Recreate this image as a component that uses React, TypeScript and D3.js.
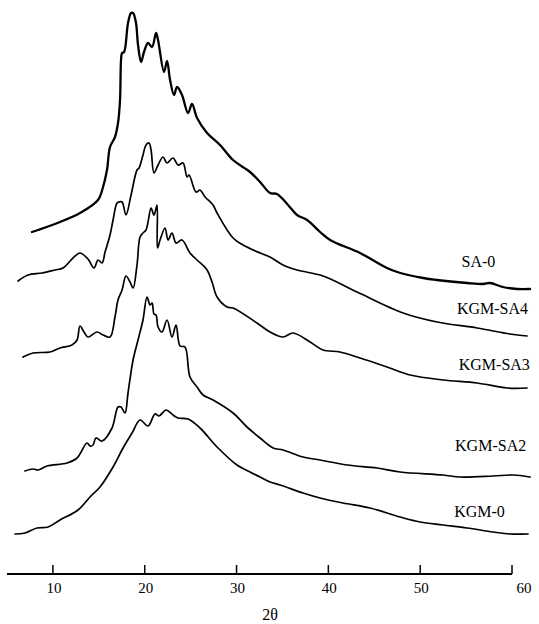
import React from "react";
import * as d3 from "d3";

// 2θ (degrees) and intensity (a.u., stacked)
const sa0Theta = [7.72, 8.38, 10.77, 12.95, 14.91, 15.46, 15.89, 16.22, 16.76, 17.09, 17.31, 17.42, 17.53, 17.75, 18.18, 18.51, 18.73, 19.05, 19.27, 19.6, 19.92, 20.36, 20.8, 21.23, 21.45, 22.1, 22.43, 22.76, 23.19, 23.52, 24.06, 24.72, 25.15, 25.7, 26.79, 28.2, 29.62, 31.47, 32.56, 33.65, 34.41, 35.61, 36.59, 37.68, 39.1, 40.19, 43.45, 46.39, 47.5, 50.32, 51.8, 55.11, 56.85, 57.6, 59.0, 60.56, 61.97];
const sa0Int = [342, 344, 352, 361, 374, 387, 404, 427, 437, 451, 474, 514, 521, 522, 551, 561, 561, 551, 529, 512, 522, 531, 527, 541, 534, 502, 513, 494, 479, 487, 479, 461, 470, 456, 441, 429, 414, 402, 392, 381, 380, 369, 359, 354, 342, 334, 321, 306, 302, 296, 294, 291, 290, 291, 287, 285, 285];

const sa4Theta = [6.2, 7.29, 8.81, 10.23, 11.1, 12.19, 12.95, 13.82, 14.48, 14.91, 15.35, 15.68, 16.22, 16.55, 16.98, 17.2, 17.53, 17.96, 18.51, 19.16, 19.38, 19.81, 20.14, 20.47, 20.69, 21.01, 21.45, 21.99, 22.43, 23.08, 23.63, 24.17, 24.61, 24.83, 25.59, 26.02, 26.57, 27.44, 27.88, 29.62, 30.71, 32.56, 33.65, 35.07, 36.59, 39.42, 43.13, 48.14, 51.84, 56.2, 59.79, 61.64];
const sa4Int = [293, 299, 301, 304, 306, 316, 321, 315, 306, 314, 311, 322, 339, 354, 371, 372, 372, 359, 379, 404, 406, 419, 429, 431, 424, 401, 409, 417, 411, 416, 409, 411, 397, 399, 382, 384, 377, 369, 361, 336, 329, 321, 317, 309, 304, 298, 282, 261, 252, 246, 240, 238];

const sa3Theta = [6.74, 7.83, 9.68, 10.77, 12.08, 12.63, 12.95, 13.39, 13.82, 14.8, 15.46, 16.22, 16.76, 17.09, 17.53, 17.96, 18.4, 18.73, 19.16, 19.49, 19.81, 20.14, 20.36, 20.69, 21.01, 21.34, 21.39, 21.67, 22.21, 22.54, 22.97, 23.41, 24.06, 24.93, 25.7, 26.79, 27.33, 27.88, 28.97, 29.62, 32.23, 33.65, 35.07, 36.15, 38.01, 39.42, 41.27, 43.45, 46.39, 48.9, 52.49, 56.2, 59.47, 61.64];
const sa3Int = [217, 221, 222, 226, 229, 234, 248, 242, 237, 242, 239, 237, 257, 274, 284, 298, 292, 286, 309, 337, 341, 344, 352, 366, 359, 369, 326, 334, 346, 334, 341, 331, 334, 321, 314, 304, 292, 277, 267, 266, 251, 242, 237, 241, 232, 224, 222, 216, 207, 199, 194, 191, 186, 186];

const sa2Theta = [6.96, 7.83, 8.38, 9.36, 11.54, 12.63, 13.71, 14.04, 14.37, 14.69, 15.35, 16.44, 17.09, 17.42, 17.85, 18.18, 18.73, 19.27, 19.81, 20.25, 20.58, 20.8, 21.01, 21.23, 21.45, 21.88, 22.43, 22.97, 23.41, 23.85, 24.39, 24.93, 25.7, 26.35, 27.44, 29.62, 31.14, 32.56, 33.98, 35.07, 37.24, 39.1, 42.04, 45.31, 47.81, 52.49, 54.35, 57.94, 60.12, 61.97];
const sa2Int = [103, 105, 104, 108, 111, 116, 131, 128, 129, 136, 133, 146, 167, 167, 161, 181, 214, 234, 254, 277, 269, 271, 260, 259, 247, 242, 254, 237, 249, 228, 227, 197, 187, 179, 174, 161, 147, 136, 126, 124, 117, 114, 109, 106, 102, 99, 97, 98, 99, 97];

const kgm0Theta = [5.87, 6.96, 8.27, 9.47, 10.77, 12.73, 14.04, 15.13, 16.55, 17.64, 18.62, 19.49, 20.36, 21.12, 21.56, 22.32, 23.08, 23.63, 24.72, 26.02, 27.88, 30.05, 31.47, 32.56, 33.65, 34.74, 37.24, 39.1, 41.6, 44.54, 47.81, 49.99, 52.49, 55.11, 57.94, 59.79, 61.75];
const kgm0Int = [40, 41, 46, 47, 54, 64, 77, 87, 107, 126, 141, 154, 148, 160, 158, 164, 159, 156, 155, 146, 127, 109, 102, 97, 92, 89, 81, 76, 71, 66, 57, 52, 49, 46, 42, 40, 40];

const seriesNames = ["SA-0", "KGM-SA4", "KGM-SA3", "KGM-SA2", "KGM-0"];
const seriesTheta = [sa0Theta, sa4Theta, sa3Theta, sa2Theta, kgm0Theta];
const seriesInt = [sa0Int, sa4Int, sa3Int, sa2Int, kgm0Int];
// label anchor: 2θ position and intensity level for each series name
const labelTheta = [54.5, 54.0, 54.2, 53.8, 53.7];
const labelInt = [307, 260, 204, 123, 57];

const xTicks = [10, 20, 30, 40, 50, 60];
const xDomain = [5, 60];
const yDomain = [0, 574];
const xTitle = "2θ";

export default function App() {
  const W = 539, H = 624;
  const x = d3.scaleLinear().domain(xDomain).range([7, 512]);
  const y = d3.scaleLinear().domain(yDomain).range([574, 0]);
  const axisY = y(0);
  const line = d3
    .line<[number, number]>()
    .x((d) => x(d[0]))
    .y((d) => y(d[1]))
    .curve(d3.curveCatmullRom.alpha(0.5));
  const font = "'Liberation Serif', 'Times New Roman', serif";

  return (
    <svg
      width={W}
      height={H}
      style={{ position: "absolute", left: 0, top: 0, background: "#fff" }}
    >
      {seriesNames.map((name, i) => {
        const pts = seriesTheta[i].map((t, j) => [t, seriesInt[i][j]] as [number, number]);
        return (
          <path
            key={name}
            d={line(pts) || ""}
            fill="none"
            stroke="#000"
            strokeWidth={i === 0 ? 2.3 : 1.7}
            strokeLinejoin="round"
            strokeLinecap="round"
          />
        );
      })}
      {seriesNames.map((name, i) => (
        <text
          key={"l" + name}
          x={x(labelTheta[i])}
          y={y(labelInt[i])}
          fontFamily={font}
          fontSize={16}
          fill="#000"
        >
          {name}
        </text>
      ))}
      <line x1={x(xDomain[0])} x2={x(xDomain[1])} y1={axisY} y2={axisY} stroke="#000" strokeWidth={2} />
      {xTicks.map((t, i) => (
        <g key={t}>
          <line x1={x(t)} x2={x(t)} y1={axisY} y2={axisY - 9} stroke="#000" strokeWidth={1.5} />
          <text
            x={x(t) + (i === xTicks.length - 1 ? 12 : 1)}
            y={593}
            textAnchor="middle"
            fontFamily={font}
            fontSize={15}
            fill="#000"
          >
            {t}
          </text>
        </g>
      ))}
      <text x={270} y={620} textAnchor="middle" fontFamily={font} fontSize={16} fill="#000">
        {xTitle}
      </text>
    </svg>
  );
}
